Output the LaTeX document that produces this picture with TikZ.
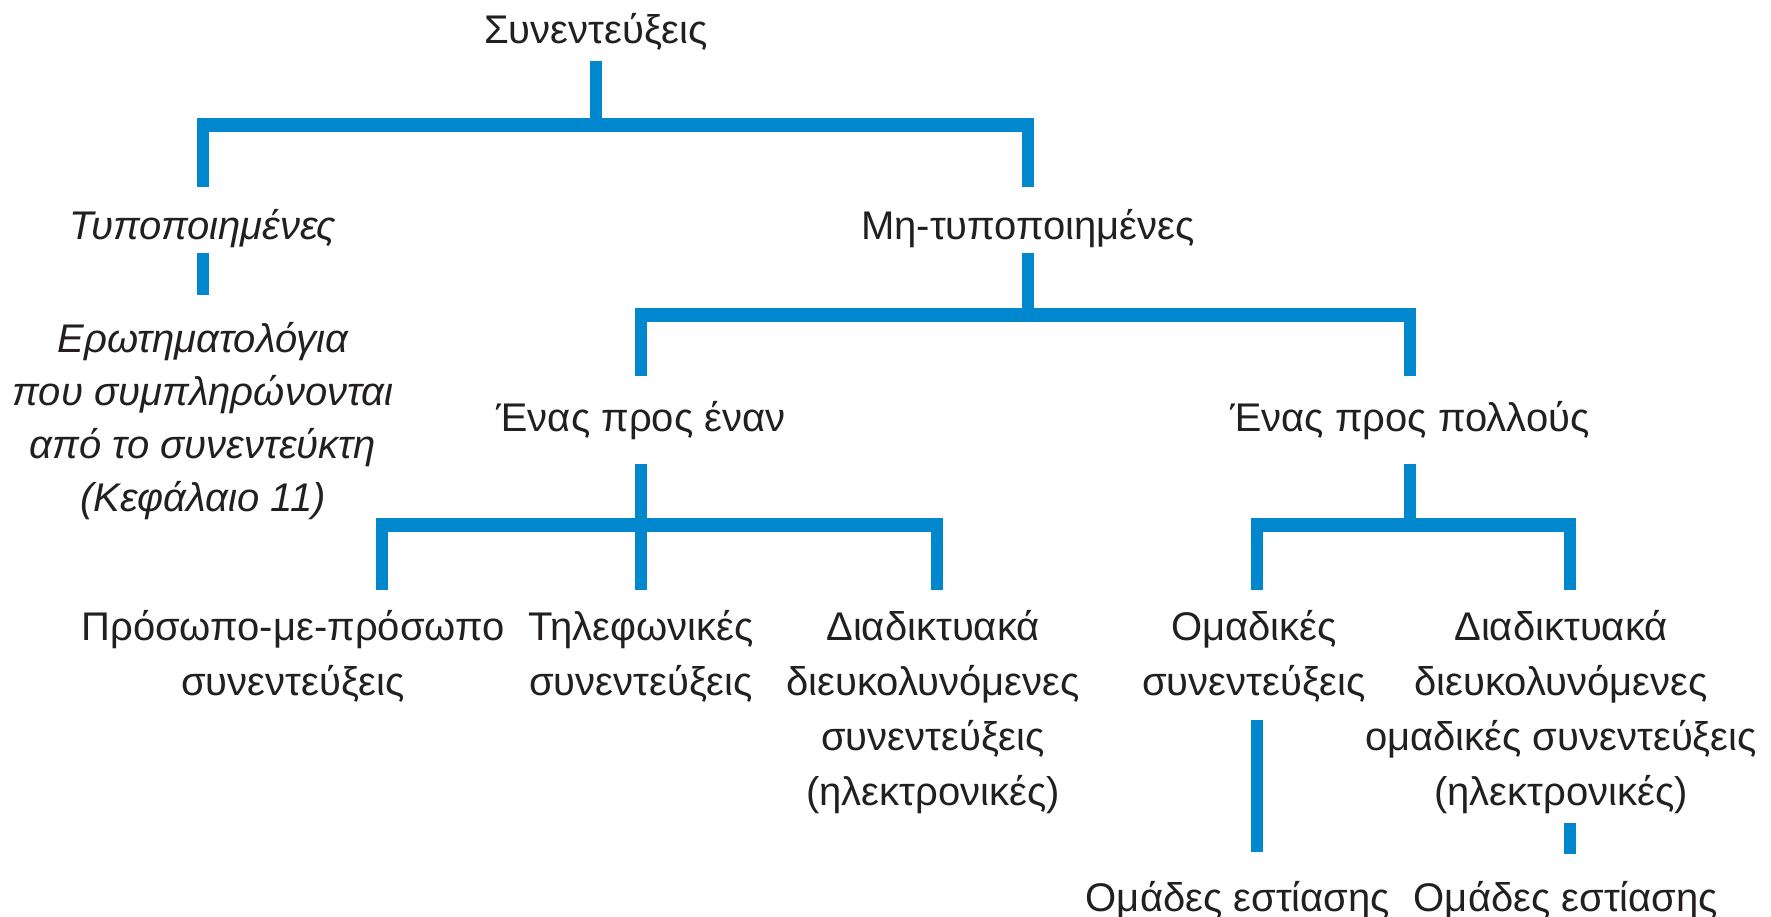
\documentclass[tikz,border=0pt]{standalone}
\usepackage{fontspec}
\setmainfont{Liberation Sans}
\definecolor{brc}{RGB}{0,135,205}
\definecolor{txt}{RGB}{35,31,32}
\begin{document}
\begin{tikzpicture}[x=0.5pt,y=-0.5pt,
    lbl/.style={align=center,inner sep=0pt,anchor=base,text=txt,
      font=\fontsize{20pt}{27.5pt}\selectfont},
    it/.style={lbl,font=\fontsize{20pt}{26.5pt}\selectfont\itshape},
    stem/.style={draw=brc,line width=6pt},
    bar/.style={draw=brc,line width=7pt,shorten <=-3pt,shorten >=-3pt}]
  \useasboundingbox (0,0) rectangle (1771,916);
  \node[lbl] (root) at (596,43) {Συνεντεύξεις};
  \node[it] (typ) at (203,239) {Τυποποιημένες};
  \node[lbl] (mty) at (1028,239) {Μη-τυποποιημένες};
  \node[it] (erot) at (203,511) {Ερωτηματολόγια\\που συμπληρώνονται\\από το συνεντεύκτη\\(Κεφάλαιο 11)};
  \node[lbl] (one) at (641,431) {Ένας προς έναν};
  \node[lbl] (many) at (1410,431) {Ένας προς πολλούς};
  \node[lbl] (ftf) at (293,695) {Πρόσωπο-με-πρόσωπο\\συνεντεύξεις};
  \node[lbl] (tel) at (641,695) {Τηλεφωνικές\\συνεντεύξεις};
  \node[lbl] (web) at (933,805) {Διαδικτυακά\\διευκολυνόμενες\\συνεντεύξεις\\(ηλεκτρονικές)};
  \node[lbl] (grp) at (1254,695) {Ομαδικές\\συνεντεύξεις};
  \node[lbl] (wgrp) at (1561,805) {Διαδικτυακά\\διευκολυνόμενες\\ομαδικές συνεντεύξεις\\(ηλεκτρονικές)};
  \node[lbl] (foc1) at (1238,911) {Ομάδες εστίασης};
  \node[lbl] (foc2) at (1566,911) {Ομάδες εστίασης};
  \coordinate (j1) at (596,125);
  \coordinate (j2) at (1028,314.5);
  \coordinate (k1) at (382,525);
  \coordinate (k2) at (641,525);
  \coordinate (k3) at (937,525);
  \coordinate (k4) at (1257,525);
  \coordinate (k5) at (1570,525);
  \draw[stem,shorten <=5.5pt] (root.south) -- (j1);
  \draw[bar] (typ |- j1) -- (mty |- j1);
  \draw[stem,shorten >=10.5pt] (typ |- j1) -- (typ.north);
  \draw[stem,shorten >=10.5pt] (mty |- j1) -- (mty.north);
  \draw[stem,shorten <=2.5pt,shorten >=13pt] (typ.south) -- (erot.north);
  \draw[stem,shorten <=2.5pt] (mty.south) -- (j2);
  \draw[bar] (one |- j2) -- (many |- j2);
  \draw[stem,shorten >=12pt] (one |- j2) -- (one.north);
  \draw[stem,shorten >=12pt] (many |- j2) -- (many.north);
  \draw[stem,shorten <=12pt] (one.south) -- (k2);
  \draw[stem,shorten <=12pt] (many.south) -- (many |- k4);
  \draw[bar] (k1) -- (k3);
  \draw[bar] (k4) -- (k5);
  \draw[stem,shorten >=9.5pt] (k1) -- (k1 |- ftf.north);
  \draw[stem,shorten >=9.5pt] (k2) -- (k2 |- tel.north);
  \draw[stem,shorten >=9.5pt] (k3) -- (k3 |- web.north);
  \draw[stem,shorten >=9.5pt] (k4) -- (k4 |- grp.north);
  \draw[stem,shorten >=9.5pt] (k5) -- (k5 |- wgrp.north);
  \draw[stem,shorten <=9pt,shorten >=14pt] (k4 |- grp.south) -- (k4 |- foc1.north);
  \draw[stem,shorten <=4.5pt,shorten >=13pt] (k5 |- wgrp.south) -- (k5 |- foc2.north);
\end{tikzpicture}
\end{document}
